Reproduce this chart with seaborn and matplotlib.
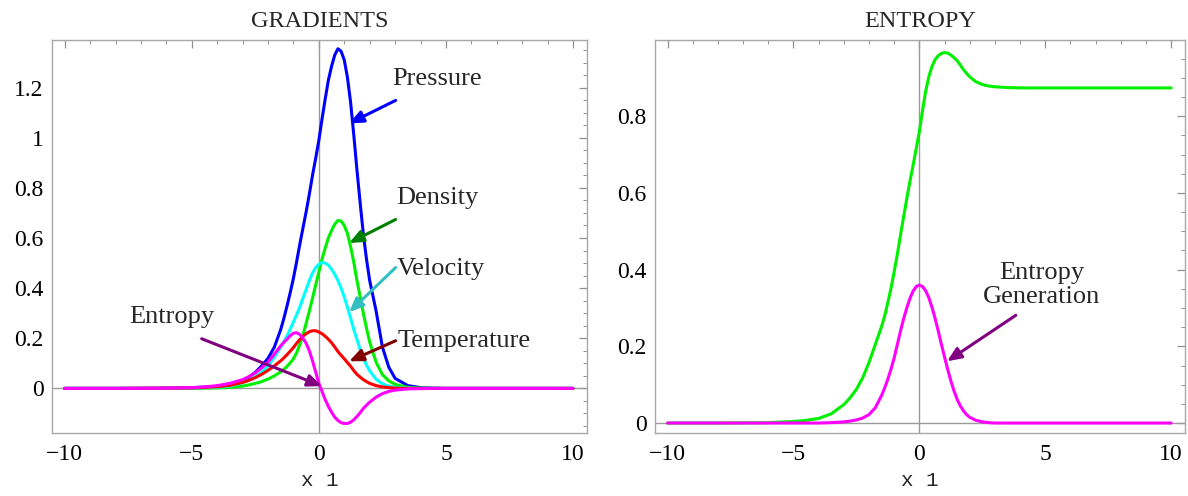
import pandas as pd
import matplotlib
matplotlib.use("Agg")
import matplotlib.pyplot as plt
from matplotlib.ticker import MultipleLocator, FixedLocator, FixedFormatter
import seaborn as sns

# sample positions along x1: left tail, centre, right tail
x1 = ([-10, -8, -6, -5, -4.5, -4, -3.5, -3, -2.75, -2.5, -2.25, -2, -1.75, -1.5]
      + [-1.375, -1.25, -1.125, -1, -0.875, -0.75, -0.625, -0.5, -0.375, -0.25,
         -0.125, 0, 0.125, 0.25, 0.375, 0.5, 0.625, 0.75, 0.875, 1, 1.125, 1.25,
         1.375, 1.5, 1.625, 1.75, 1.875, 2]
      + [2.25, 2.5, 2.75, 3, 3.5, 4, 4.5, 5, 6, 8, 10])

# left panel: gradients
pressure = ([0, 0, 0.001, 0.003, 0.005, 0.008, 0.015, 0.032, 0.045, 0.064, 0.09, 0.12, 0.165, 0.235]
            + [0.28, 0.33, 0.383, 0.44, 0.505, 0.575, 0.64, 0.705, 0.775, 0.85, 0.918, 0.99,
               1.075, 1.155, 1.23, 1.285, 1.33, 1.355, 1.345, 1.31, 1.24, 1.14, 1.01, 0.87,
               0.74, 0.615, 0.515, 0.43]
            + [0.31, 0.165, 0.085, 0.04, 0.011, 0.003, 0.001, 0, 0, 0, 0])
density = ([0, 0, 0, 0, 0.001, 0.002, 0.004, 0.009, 0.014, 0.02, 0.027, 0.037, 0.05, 0.066]
           + [0.076, 0.088, 0.102, 0.118, 0.142, 0.175, 0.213, 0.26, 0.308, 0.36, 0.412, 0.465,
              0.515, 0.56, 0.6, 0.63, 0.655, 0.67, 0.668, 0.65, 0.618, 0.565, 0.503, 0.43,
              0.365, 0.30, 0.24, 0.185]
           + [0.105, 0.055, 0.03, 0.016, 0.004, 0.001, 0, 0, 0, 0, 0])
velocity = ([0, 0, 0, 0.002, 0.003, 0.005, 0.009, 0.022, 0.032, 0.046, 0.065, 0.09, 0.125, 0.165]
            + [0.187, 0.21, 0.237, 0.265, 0.294, 0.325, 0.36, 0.395, 0.43, 0.46, 0.482, 0.495,
               0.502, 0.5, 0.492, 0.475, 0.455, 0.43, 0.4, 0.365, 0.323, 0.28, 0.235, 0.195,
               0.155, 0.12, 0.093, 0.07]
            + [0.037, 0.018, 0.009, 0.004, 0.001, 0, 0, 0, 0, 0, 0])
temperature = ([0, 0, 0.001, 0.002, 0.004, 0.007, 0.012, 0.024, 0.032, 0.043, 0.056, 0.072, 0.09, 0.11]
               + [0.122, 0.135, 0.149, 0.163, 0.18, 0.195, 0.208, 0.218, 0.226, 0.23, 0.23, 0.225,
                  0.218, 0.208, 0.196, 0.182, 0.165, 0.147, 0.132, 0.118, 0.103, 0.088, 0.071,
                  0.056, 0.045, 0.035, 0.027, 0.02]
               + [0.011, 0.006, 0.003, 0.001, 0, 0, 0, 0, 0, 0, 0])
entropy = ([0, 0, 0.001, 0.003, 0.006, 0.011, 0.02, 0.035, 0.047, 0.062, 0.082, 0.105, 0.137, 0.17]
           + [0.184, 0.197, 0.21, 0.22, 0.222, 0.215, 0.2, 0.18, 0.15, 0.11, 0.065, 0.02,
              -0.012, -0.045, -0.072, -0.095, -0.115, -0.128, -0.137, -0.14, -0.14, -0.135,
              -0.125, -0.112, -0.097, -0.08, -0.067, -0.055]
           + [-0.035, -0.021, -0.012, -0.007, -0.002, -0.001, 0, 0, 0, 0, 0])

# right panel: entropy and entropy generation
entropy_total = ([0, 0, 0.001, 0.004, 0.007, 0.012, 0.024, 0.048, 0.066, 0.088, 0.118, 0.158, 0.205, 0.252]
                 + [0.28, 0.315, 0.352, 0.395, 0.44, 0.49, 0.538, 0.585, 0.63, 0.672, 0.716, 0.76,
                    0.815, 0.865, 0.903, 0.93, 0.948, 0.958, 0.964, 0.966, 0.965, 0.96, 0.953,
                    0.945, 0.934, 0.922, 0.912, 0.903]
                 + [0.89, 0.883, 0.879, 0.877, 0.875, 0.874, 0.874, 0.874, 0.874, 0.874, 0.874])
entropy_gen = ([0, 0, 0, 0, 0, 0, 0.001, 0.003, 0.005, 0.008, 0.013, 0.022, 0.04, 0.072]
               + [0.092, 0.115, 0.141, 0.17, 0.205, 0.24, 0.272, 0.3, 0.325, 0.344, 0.356, 0.36,
                  0.356, 0.345, 0.327, 0.302, 0.273, 0.24, 0.205, 0.172, 0.14, 0.11, 0.084,
                  0.062, 0.045, 0.032, 0.022, 0.015]
               + [0.007, 0.003, 0.001, 0, 0, 0, 0, 0, 0, 0, 0])

left_names = ["Pressure", "Density", "Velocity", "Temperature", "Entropy"]
left_colors = {"Pressure": "#0000FF", "Density": "#00F000", "Velocity": "#00FFFF",
               "Temperature": "#FF0000", "Entropy": "#FF00FF"}
right_names = ["S", "Sgen"]
right_colors = {"S": "#00F000", "Sgen": "#FF00FF"}

left_df = pd.concat([pd.DataFrame({"x": x1, "y": v, "curve": n})
                     for n, v in zip(left_names, [pressure, density, velocity, temperature, entropy])])
right_df = pd.concat([pd.DataFrame({"x": x1, "y": v, "curve": n})
                      for n, v in zip(right_names, [entropy_total, entropy_gen])])

sns.set_theme(style="white")
plt.rcParams["font.family"] = ["Liberation Serif", "DejaVu Serif"]

fig = plt.figure(figsize=(11.88, 4.96), dpi=100)
ax1 = fig.add_axes([52 / 1188, 63 / 496, 535 / 1188, 393 / 496])
ax2 = fig.add_axes([655 / 1188, 63 / 496, 530 / 1188, 393 / 496])

frame_col = "#A8A8A8"
axis_col = "#9A9A9A"


def style_axes(ax, ylim, yticks, ylabels, title):
    ax.set_xlim(-10.5, 10.55)
    ax.set_ylim(*ylim)
    ax.axvline(0, color=axis_col, lw=1, zorder=1)
    ax.axhline(0, color=axis_col, lw=1, zorder=1)
    for s in ax.spines.values():
        s.set_color(frame_col)
        s.set_linewidth(1)
    ax.xaxis.set_major_locator(FixedLocator([-10, -5, 0, 5, 10]))
    ax.xaxis.set_major_formatter(FixedFormatter(["\u221210", "\u22125", "0", "5", "10"]))
    ax.xaxis.set_minor_locator(MultipleLocator(1))
    ax.yaxis.set_major_locator(FixedLocator(yticks))
    ax.yaxis.set_major_formatter(FixedFormatter(ylabels))
    ax.yaxis.set_minor_locator(MultipleLocator(0.05))
    ax.tick_params(which="both", direction="in", top=True, right=True,
                   color="#909090", labelsize=17, labelcolor="black")
    ax.tick_params(which="major", length=6, width=0.9)
    ax.tick_params(which="minor", length=3, width=0.7)
    ax.tick_params(axis="x", which="major", pad=8)
    ax.tick_params(axis="y", which="major", pad=6)
    ax.set_xlabel("x 1", fontfamily=["Liberation Mono", "DejaVu Sans Mono"],
                  fontsize=15, labelpad=4)
    ax.set_ylabel("")
    ax.set_title(title, fontsize=17.5, pad=9)


sns.lineplot(data=left_df, x="x", y="y", hue="curve", hue_order=left_names,
             palette=left_colors, lw=2.2, legend=False, sort=False, ax=ax1, zorder=3)
sns.lineplot(data=right_df, x="x", y="y", hue="curve", hue_order=right_names,
             palette=right_colors, lw=2.2, legend=False, sort=False, ax=ax2, zorder=3)

style_axes(ax1, (-0.178, 1.39), [0, 0.2, 0.4, 0.6, 0.8, 1.0, 1.2],
           ["0", "0.2", "0.4", "0.6", "0.8", "1", "1.2"], "GRADIENTS")
style_axes(ax2, (-0.026, 0.999), [0, 0.2, 0.4, 0.6, 0.8],
           ["0", "0.2", "0.4", "0.6", "0.8"], "ENTROPY")


def arrow(ax, tail, head, color):
    ax.annotate("", xy=head, xytext=tail,
                arrowprops=dict(arrowstyle="-|>,head_length=0.7,head_width=0.3",
                                color=color, lw=2.2, shrinkA=0, shrinkB=0),
                zorder=5)


# labels and arrows, left panel
ax1.text(2.87, 1.235, "Pressure", fontsize=19, ha="left", va="center")
arrow(ax1, (3.02, 1.149), (1.19, 1.057), "#0000FF")
ax1.text(3.05, 0.76, "Density", fontsize=19, ha="left", va="center")
arrow(ax1, (3.02, 0.674), (1.19, 0.58), "#008000")
ax1.text(3.05, 0.476, "Velocity", fontsize=19, ha="left", va="center")
arrow(ax1, (3.02, 0.482), (1.19, 0.304), "#33BFBF")
ax1.text(3.1, 0.19, "Temperature", fontsize=19, ha="left", va="center")
arrow(ax1, (3.02, 0.19), (1.19, 0.108), "#800000")
ax1.text(-7.47, 0.284, "Entropy", fontsize=19, ha="left", va="center")
arrow(ax1, (-4.61, 0.198), (0.12, 0.009), "#800080")

# right panel
ax2.text(4.85, 0.36, "Entropy\nGeneration", fontsize=19, ha="center", va="center",
         linespacing=1.15)
arrow(ax2, (3.83, 0.281), (1.1, 0.161), "#800080")

fig.savefig("out.png", dpi=100)
